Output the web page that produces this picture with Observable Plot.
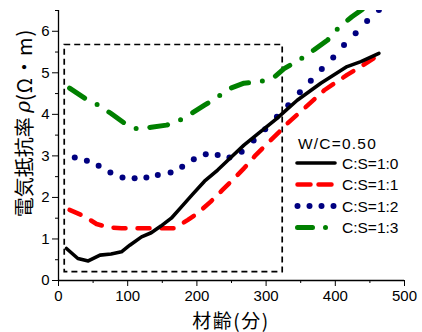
<!DOCTYPE html>
<html><head><meta charset="utf-8">
<script src="https://cdn.jsdelivr.net/npm/d3@7"></script>
<script src="https://cdn.jsdelivr.net/npm/@observablehq/plot@0.6"></script>
<style>
html,body{margin:0;padding:0;background:#fff;}
#chart{position:relative;width:422px;height:332px;}
</style></head><body><div id="chart"></div>
<script>
// Tick labels
const xTicks = [0, 100, 200, 300, 400, 500];
const xMinor = [50, 150, 250, 350, 450];
const yTicks = [0, 1, 2, 3, 4, 5, 6];
const yMinor = [0.5, 1.5, 2.5, 3.5, 4.5, 5.5, 6.5];

// Texts
const xTitle = "材齢(分)";
const yTitleA = "電気抵抗率 ";
const yTitleRho = "ρ";
const yTitleB = "(Ω・m)";
const legendTitle = "W/C=0.50";
const seriesNames = ["C:S=1:0", "C:S=1:1", "C:S=1:2", "C:S=1:3"];

// Series C:S=1:0
const age10 = [11.5, 28, 43, 60, 76, 91, 103, 120, 134, 148, 163, 177, 194, 211, 230, 249, 268, 288, 314, 345, 379, 417, 437, 463];
const rho10 = [0.77, 0.53, 0.47, 0.61, 0.64, 0.69, 0.85, 1.05, 1.15, 1.31, 1.50, 1.76, 2.08, 2.39, 2.66, 2.96, 3.26, 3.53, 3.88, 4.34, 4.75, 5.15, 5.27, 5.47];
// Series C:S=1:1
const age11 = [16, 38, 55, 72, 91, 115, 134, 148, 168, 187, 201, 220, 237, 254, 268, 285, 302, 319, 328, 355, 384, 417, 437, 463];
const rho11 = [1.70, 1.54, 1.36, 1.28, 1.26, 1.26, 1.26, 1.26, 1.26, 1.46, 1.62, 1.90, 2.18, 2.46, 2.70, 3.02, 3.30, 3.58, 3.74, 4.14, 4.58, 4.95, 5.15, 5.43];
// Series C:S=1:2
const age12 = [23.5, 41, 58, 75, 92.5, 110, 127, 143.5, 162, 178.7, 195.5, 212.8, 230, 247, 264.7, 282, 298.7, 315.6, 332, 348.8, 364.6, 380.5, 397, 412.6, 429.4, 446, 463];
const rho12 = [2.96, 2.88, 2.76, 2.60, 2.48, 2.46, 2.48, 2.54, 2.60, 2.74, 2.92, 3.04, 3.02, 2.96, 3.10, 3.37, 3.64, 3.94, 4.22, 4.53, 4.81, 5.09, 5.37, 5.67, 5.95, 6.25, 6.51];
// Series C:S=1:3
const age13 = [16, 38, 58, 76, 96, 115, 134, 156, 172, 192, 211, 230, 249, 268, 290, 312, 326, 348, 369, 389, 405, 424, 441, 450];
const rho13 = [4.63, 4.39, 4.22, 4.02, 3.78, 3.64, 3.69, 3.74, 3.83, 4.02, 4.22, 4.42, 4.63, 4.75, 4.78, 4.90, 5.10, 5.31, 5.55, 5.79, 6.09, 6.35, 6.55, 6.70];

// Dashed box
const boxAge = [9, 324];
const boxRho = [0.2, 5.67];

const toRows = (xs, ys) => xs.map((x, i) => ({x, y: ys[i]}));
const s10 = toRows(age10, rho10);
const s11 = toRows(age11, rho11);
const s12 = toRows(age12, rho12);
const s13 = toRows(age13, rho13);
const box = [{x1: boxAge[0], x2: boxAge[1], y1: boxRho[0], y2: boxRho[1]}];

const colors = ["#000000", "#ff0000", "#000080", "#008000"];

const svg = Plot.plot({
  width: 422, height: 332,
  marginLeft: 58, marginRight: 18, marginTop: 10, marginBottom: 52,
  style: {fontFamily: "'Liberation Sans', Arial, sans-serif", fontSize: "15px", color: "#000", background: "#fff", overflow: "visible"},
  x: {domain: [0, 500]},
  y: {domain: [0, 6.5]},
  marks: [
    Plot.axisX({ticks: xMinor, tickSize: 3, tickFormat: () => "", label: null}),
    Plot.axisX({ticks: xTicks, tickSize: 6, tickPadding: 4, tickFormat: d3.format("d"), label: null}),
    Plot.axisY({ticks: yMinor, tickSize: 3, tickFormat: () => "", label: null}),
    Plot.axisY({ticks: yTicks, tickSize: 6, tickPadding: 3, tickFormat: d3.format("d"), label: null}),
    Plot.ruleX([0], {strokeWidth: 1.3}),
    Plot.ruleY([0], {strokeWidth: 1.3}),
    Plot.rect(box, {x1: "x1", x2: "x2", y1: "y1", y2: "y2", fill: "none", stroke: "#000", strokeWidth: 1.7, strokeDasharray: "6,4"}),
    Plot.line(s13, {x: "x", y: "y", stroke: colors[3], strokeWidth: 5, strokeDasharray: "18,14,0,14", strokeLinecap: "round", clip: true}),
    Plot.dot(s12, {x: "x", y: "y", r: 3, fill: colors[2], stroke: "none", clip: true}),
    Plot.line(s11, {x: "x", y: "y", stroke: colors[1], strokeWidth: 4.5, strokeDasharray: "12,12", strokeLinecap: "round", clip: true}),
    Plot.line(s10, {x: "x", y: "y", stroke: colors[0], strokeWidth: 3.6, strokeLinejoin: "round", clip: true})
  ]
});

const s = d3.select(svg);
// Axis titles
s.append("text")
  .attr("x", 231).attr("y", 319)
  .attr("text-anchor", "middle").attr("dominant-baseline", "central")
  .style("font-family", "'Noto Sans CJK JP', sans-serif").style("font-size", "19px").style("letter-spacing", "1.5px").attr("fill", "#000")
  .text(xTitle);
const yt = s.append("text")
  .attr("transform", "translate(23,123) rotate(-90)")
  .attr("text-anchor", "middle").attr("dominant-baseline", "central")
  .style("font-family", "'Noto Sans CJK JP', sans-serif").style("font-size", "20px").attr("fill", "#000");
yt.append("tspan").text(yTitleA);
yt.append("tspan").style("font-style", "italic").style("font-family", "'DejaVu Serif', serif").text(yTitleRho);
yt.append("tspan").style("letter-spacing", "1px").text(yTitleB);

// Legend
const lg = s.append("g").attr("text-anchor", "start")
  .style("font-family", "'Liberation Sans', Arial, sans-serif").style("font-size", "15.5px");
lg.append("text").attr("x", 298).attr("y", 143).attr("dominant-baseline", "central").style("letter-spacing", "1.2px").attr("fill", "#000").text(legendTitle);
const rowY = [163, 184.5, 206, 227.5];
// black
lg.append("line").attr("x1", 297).attr("x2", 335).attr("y1", rowY[0]).attr("y2", rowY[0])
  .attr("stroke", colors[0]).attr("stroke-width", 3.6).attr("stroke-linecap", "round");
// red
lg.append("line").attr("x1", 297.5).attr("x2", 332).attr("y1", rowY[1]).attr("y2", rowY[1])
  .attr("stroke", colors[1]).attr("stroke-width", 4.5).attr("stroke-dasharray", "13,8").attr("stroke-linecap", "round");
// blue dots
[297.5, 309.5, 321.5, 333.5].forEach(cx => lg.append("circle").attr("cx", cx).attr("cy", rowY[2]).attr("r", 3).attr("fill", colors[2]));
// green
lg.append("line").attr("x1", 297.5).attr("x2", 332).attr("y1", rowY[3]).attr("y2", rowY[3])
  .attr("stroke", colors[3]).attr("stroke-width", 5).attr("stroke-dasharray", "15,13,0,20").attr("stroke-linecap", "round");
seriesNames.forEach((n, i) => lg.append("text").attr("x", 342).attr("y", rowY[i]).attr("dominant-baseline", "central").attr("fill", "#000").text(n));

document.getElementById("chart").appendChild(svg);
</script>
</body></html>
